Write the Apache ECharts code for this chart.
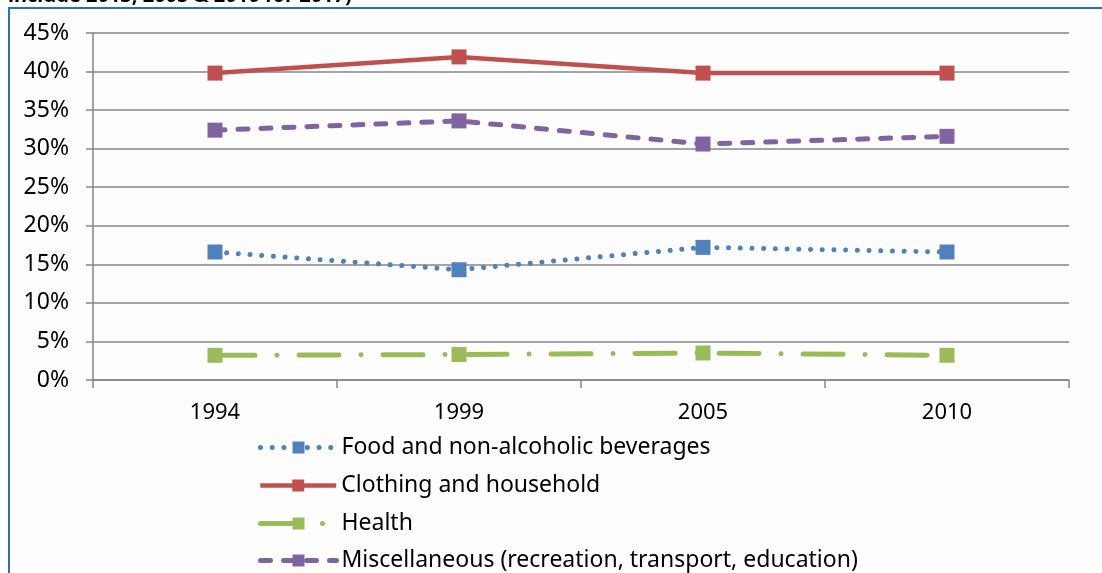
<!DOCTYPE html>
<html>
<head>
<meta charset="utf-8">
<script src="https://cdn.jsdelivr.net/npm/echarts@6/dist/echarts.min.js"></script>
<style>
    html, body { margin: 0; padding: 0; background: #fff; }
    #chart { width: 1102px; height: 573px; }
</style>
</head>
<body>
<div id="chart"></div>
<script>
var years = ['1994', '1999', '2005', '2010'];
var food = [16.6, 14.3, 17.2, 16.6];
var clothing = [39.8, 41.9, 39.8, 39.8];
var health = [3.2, 3.3, 3.5, 3.2];
var misc = [32.4, 33.6, 30.6, 31.6];
var seriesNames = [
    'Food and non-alcoholic beverages',
    'Clothing and household',
    'Health',
    'Miscellaneous (recreation, transport, education)'
];
var colors = ['#4f81bd', '#c0504d', '#9bbb59', '#8064a2'];

var fontFam = '"Noto Sans", "Open Sans", sans-serif';

var lineStyles = [
    { width: 5, type: [0.01, 11.7], cap: 'round' },
    { width: 4.5, type: 'solid' },
    { width: 5, type: [40, 22, 0.01, 22], cap: 'round' },
    { width: 5, type: [10, 13], cap: 'round' }
];
var legendTops = [431, 469, 507, 544];

// one legend per row so they stack like the original
var legends = [];
for (var i = 0; i < seriesNames.length; i++) {
    legends.push({
        orient: 'vertical',
        left: 253,
        top: legendTops[i],
        itemWidth: 76,
        itemHeight: 15,
        textStyle: { fontSize: 23, color: '#000', fontFamily: fontFam },
        lineStyle: lineStyles[i],
        data: [seriesNames[i]]
    });
}

var myChart = echarts.init(document.getElementById('chart'));
var option = {
    animation: false,
    backgroundColor: '#ffffff',
    graphic: [
        {
            type: 'rect',
            left: 8, top: 7,
            shape: { width: 1200, height: 700 },
            style: { fill: '#fdfdfd', stroke: '#2a71b8', lineWidth: 2 },
            z: -10
        },
        {
            type: 'text',
            left: 8, top: -14,
            style: {
                text: 'include 2013, 2005 & 2010 for 2017)',
                font: 'bold 20px ' + fontFam,
                fill: '#000'
            }
        }
    ],
    grid: {
        left: 93,
        right: 33,
        top: 33,
        bottom: 193
    },
    legend: legends,
    xAxis: {
        type: 'category',
        data: years,
        boundaryGap: true,
        axisLine: { lineStyle: { color: '#868686', width: 1.5 } },
        axisTick: { show: true, length: 8, lineStyle: { color: '#868686', width: 1.5 } },
        axisLabel: { fontSize: 22, color: '#000', fontFamily: fontFam, margin: 22 }
    },
    yAxis: {
        type: 'value',
        min: 0,
        max: 45,
        interval: 5,
        axisLine: { show: true, lineStyle: { color: '#868686', width: 1.5 } },
        axisTick: { show: true, length: 7, lineStyle: { color: '#868686', width: 1.5 } },
        splitLine: { lineStyle: { color: '#868686', width: 1.5 } },
        axisLabel: {
            fontSize: 23, color: '#000', fontFamily: fontFam, margin: 24,
            formatter: '{value}%'
        }
    },
    series: [
        {
            name: seriesNames[0],
            type: 'line',
            data: food,
            symbol: 'rect',
            symbolSize: 15,
            color: colors[0],
            lineStyle: lineStyles[0]
        },
        {
            name: seriesNames[1],
            type: 'line',
            data: clothing,
            symbol: 'rect',
            symbolSize: 15,
            color: colors[1],
            lineStyle: lineStyles[1]
        },
        {
            name: seriesNames[2],
            type: 'line',
            data: health,
            symbol: 'rect',
            symbolSize: 15,
            color: colors[2],
            lineStyle: lineStyles[2]
        },
        {
            name: seriesNames[3],
            type: 'line',
            data: misc,
            symbol: 'rect',
            symbolSize: 15,
            color: colors[3],
            lineStyle: lineStyles[3]
        }
    ]
};
myChart.setOption(option);
</script>
</body>
</html>
